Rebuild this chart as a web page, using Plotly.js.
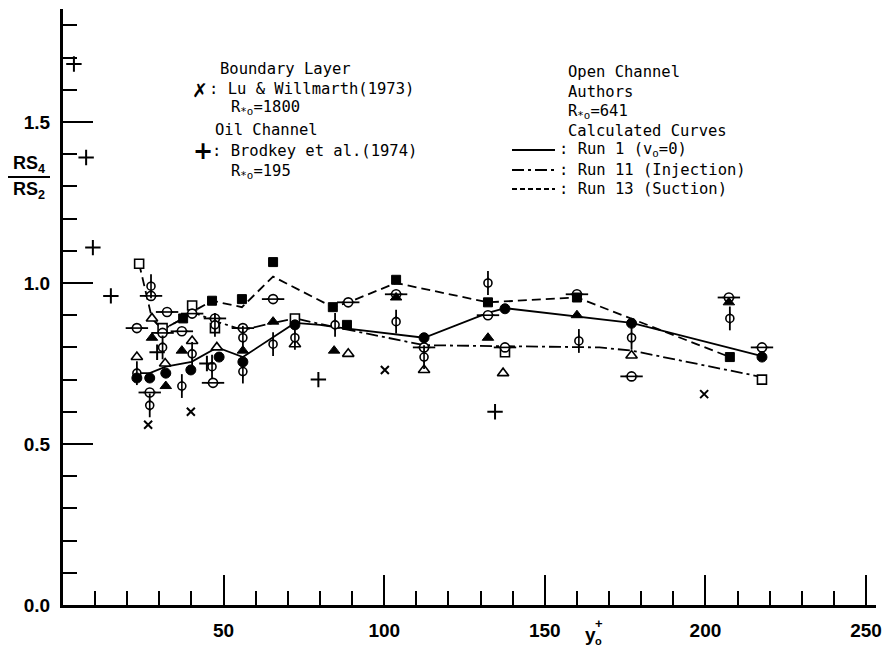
<!DOCTYPE html>
<html>
<head>
<meta charset="utf-8">
<script src="https://cdn.plot.ly/plotly-3.0.1.min.js"></script>
<style>html,body{margin:0;padding:0;background:#fff;}#chart{width:886px;height:649px;}</style>
</head>
<body>
<div id="chart"></div>
<script>
// ---------- data ----------
// Boundary layer: Lu & Willmarth (1973)
const luX = [26.5, 39.8, 100.2, 199.6];
const luY = [0.56, 0.60, 0.73, 0.655];
// Oil channel: Brodkey et al. (1974)
const brX = [3.4, 7.2, 9.3, 14.9, 29.3, 44.8, 79.5, 134.5];
const brY = [1.68, 1.39, 1.11, 0.96, 0.785, 0.75, 0.70, 0.60];

// Calculated curves
const run1X = [23, 27, 32, 40, 48, 56, 72.2, 80, 84.7, 112.4, 132.3, 137.6, 177, 217.6];
const run1Y = [0.72, 0.72, 0.74, 0.755, 0.80, 0.77, 0.876, 0.87, 0.863, 0.83, 0.907, 0.922, 0.876, 0.773];
const run11X = [27.7, 31, 37.4, 40.2, 47.9, 56, 65.4, 72.2, 84.7, 112.4, 167, 177, 217.6];
const run11Y = [0.89, 0.855, 0.89, 0.91, 0.88, 0.854, 0.876, 0.89, 0.863, 0.807, 0.80, 0.79, 0.708];
const run13X = [23.7, 27.7, 31, 37.4, 40.2, 46.4, 55.7, 65.4, 84, 88.8, 103.7, 132.3, 160, 207.6];
const run13Y = [1.06, 0.89, 0.855, 0.89, 0.91, 0.945, 0.925, 1.02, 0.925, 0.94, 1.00, 0.94, 0.955, 0.77];

// Authors' measurements (open channel), by symbol
const fcX = [23, 27, 32, 39.8, 48.6, 56, 72.2, 112.4, 137.6, 177, 217.6];            // filled circle
const fcY = [0.705, 0.705, 0.72, 0.73, 0.77, 0.755, 0.87, 0.83, 0.92, 0.875, 0.77];
const ftX = [27.7, 32, 37, 56, 65.4, 84.4, 103.7, 132.3, 160, 207.3];                 // filled triangle
const ftY = [0.83, 0.68, 0.79, 0.79, 0.88, 0.79, 0.955, 0.83, 0.90, 0.94];
const otX = [23, 27.7, 31.8, 40.2, 47.9, 72.2, 88.8, 112.4, 137, 177];                // open triangle
const otY = [0.77, 0.89, 0.75, 0.82, 0.80, 0.81, 0.78, 0.73, 0.72, 0.775];
const osX = [23.7, 31, 40.2, 47.3, 72.2, 137.6, 217.6];                               // open square
const osY = [1.06, 0.86, 0.93, 0.86, 0.89, 0.785, 0.70];
const fsX = [37.4, 46.4, 55.7, 65.4, 84, 88.4, 103.7, 132.3, 160, 207.6];             // filled square
const fsY = [0.89, 0.945, 0.95, 1.065, 0.925, 0.87, 1.01, 0.94, 0.955, 0.77];
const hbX = [23, 27.4, 27, 31, 32.4, 37, 40.2, 46.7, 47.3, 56, 65.4, 88.8, 103.7, 112.4, 132.3, 137.6, 160, 177, 207.3, 217.6]; // circle, horizontal bar
const hbY = [0.86, 0.96, 0.66, 0.845, 0.91, 0.85, 0.905, 0.69, 0.89, 0.86, 0.95, 0.94, 0.965, 0.80, 0.90, 0.80, 0.965, 0.71, 0.955, 0.80];
const vbX = [23, 27.4, 27, 31, 37, 40.2, 46.4, 47.3, 56, 56, 65.4, 72.2, 84.7, 103.7, 112.4, 132.3, 160.6, 177, 207.6]; // circle, vertical bar
const vbY = [0.72, 0.99, 0.62, 0.80, 0.68, 0.78, 0.74, 0.87, 0.83, 0.725, 0.81, 0.83, 0.87, 0.88, 0.77, 1.00, 0.82, 0.83, 0.89];

const xTickVals = [50, 100, 150, 200, 250];
const xTickText = ['50', '100', '150', '200', '250'];
const yTickVals = [0, 0.5, 1.0, 1.5];
const yTickText = ['0.0', '0.5', '1.0', '1.5'];

// ---------- layout helpers (pixel -> paper) ----------
const L = 63, R = 10, T = 9, B = 44, W = 886, H = 649;
const PW = W - L - R, PH = H - T - B;
const px = v => (v - L) / PW;
const py = v => (H - B - v) / PH;

const K = 'black';
const mono = 'DejaVu Sans Mono';
const sans = 'Liberation Sans';

function line(x, y, dash) {
  return {x, y, type: 'scatter', mode: 'lines', hoverinfo: 'skip',
          line: {color: K, width: 1.8, dash}};
}
// closed shape, white or black fill
function mk(x, y, symbol, size, lw, fill) {
  return {x, y, type: 'scatter', mode: 'markers', hoverinfo: 'skip',
          marker: {symbol, size, color: fill ? K : 'white',
                   line: {color: K, width: lw}}};
}
// stroke-only symbol (x, +, bars)
function st(x, y, symbol, size, lw) {
  return {x, y, type: 'scatter', mode: 'markers', hoverinfo: 'skip',
          marker: {symbol, size, color: K, line: {color: K, width: lw}}};
}

const traces = [
  line(run1X, run1Y, 'solid'),
  line(run11X, run11Y, '12px,4px,3px,4px'),
  line(run13X, run13Y, '9px,5px'),
  mk(otX, otY, 'triangle-up', 10, 1.6, false),
  mk(osX, osY, 'square', 9, 1.6, false),
  st(hbX, hbY, 'line-ew-open', 16, 1.8),
  mk(hbX, hbY, 'circle', 9, 1.6, false),
  st(hbX, hbY, 'line-ew-open', 9, 1.6),
  st(vbX, vbY, 'line-ns-open', 17, 1.8),
  mk(vbX, vbY, 'circle', 8, 1.6, false),
  st(vbX, vbY, 'line-ns-open', 8, 1.6),
  mk(fcX, fcY, 'circle', 10, 1, true),
  mk(ftX, ftY, 'triangle-up', 10, 1, true),
  mk(fsX, fsY, 'square', 9, 1, true),
  st(luX, luY, 'x-thin-open', 8, 2),
  st(brX, brY, 'cross-thin-open', 11, 2)
];

function txt(text, x, y, opts) {
  return Object.assign({text, x: px(x), y: py(y), xref: 'paper', yref: 'paper',
    xanchor: 'left', yanchor: 'middle', showarrow: false,
    font: {family: mono, size: 15.5, color: K}}, opts || {});
}

const annotations = [
  // left block
  txt('Boundary Layer', 218, 69),
  txt('✗', 200, 90, {xanchor: 'center', font: {family: 'DejaVu Sans', size: 19, color: K, weight: 700}}),
  txt(': Lu &amp; Willmarth(1973)', 207, 89),
  txt('R<sub>*o</sub>=1800', 229, 108),
  txt('Oil Channel', 213, 130),
  txt('+', 203, 151, {xanchor: 'center', font: {family: 'DejaVu Sans', size: 24, color: K, weight: 700}}),
  txt(': Brodkey et al.(1974)', 210, 151),
  txt('R<sub>*o</sub>=195', 229, 172),
  // right block
  txt('Open Channel', 566, 72),
  txt('Authors', 566, 92),
  txt('R<sub>*o</sub>=641', 566, 112),
  txt('Calculated Curves', 566, 131),
  txt(': Run 1 (v<sub>o</sub>=0)', 557, 150),
  txt(': Run 11 (Injection)', 557, 170),
  txt(': Run 13 (Suction)', 557, 189),
  // y-axis title (fraction)
  txt('RS<sub>4</sub>', 29, 164, {xanchor: 'center', font: {family: sans, size: 18, color: K, weight: 700}}),
  txt('RS<sub>2</sub>', 29, 190, {xanchor: 'center', font: {family: sans, size: 18, color: K, weight: 700}}),
  // x-axis title y_o^+
  txt('y', 590, 634, {xanchor: 'center', font: {family: sans, size: 19, color: K, weight: 700}}),
  txt('+', 599, 623, {xanchor: 'center', font: {family: sans, size: 13, color: K, weight: 700}}),
  txt('o', 598, 641, {xanchor: 'center', font: {family: sans, size: 11, color: K, weight: 700}})
];

const shapes = [
  {type: 'line', xref: 'paper', yref: 'paper', x0: px(8), x1: px(50), y0: py(177), y1: py(177), line: {color: K, width: 2}},
  {type: 'line', xref: 'paper', yref: 'paper', x0: px(512), x1: px(555), y0: py(150), y1: py(150), line: {color: K, width: 1.8}},
  {type: 'line', xref: 'paper', yref: 'paper', x0: px(512), x1: px(555), y0: py(170), y1: py(170), line: {color: K, width: 1.8, dash: '12px,4px,3px,4px'}},
  {type: 'line', xref: 'paper', yref: 'paper', x0: px(512), x1: px(555), y0: py(189), y1: py(189), line: {color: K, width: 1.8, dash: '5px,3px'}}
];

const layout = {
  width: W, height: H,
  margin: {l: L, r: R, t: T, b: B, pad: 0},
  paper_bgcolor: 'white', plot_bgcolor: 'white',
  showlegend: false,
  xaxis: {
    range: [0, 253.1], showgrid: false, zeroline: false,
    showline: true, linecolor: K, linewidth: 3,
    tickmode: 'array', tickvals: xTickVals, ticktext: xTickText,
    ticks: 'inside', ticklen: 30, tickwidth: 2, tickcolor: K,
    minor: {dtick: 10, tick0: 0, ticks: 'inside', ticklen: 14, tickwidth: 2, tickcolor: K, showgrid: false},
    tickfont: {family: sans, size: 19, color: K, weight: 700},
    ticklabelstandoff: 6
  },
  yaxis: {
    range: [0, 1.851], showgrid: false, zeroline: false,
    showline: true, linecolor: K, linewidth: 3,
    tickmode: 'array', tickvals: yTickVals, ticktext: yTickText,
    ticks: 'inside', ticklen: 30, tickwidth: 2, tickcolor: K,
    minor: {dtick: 0.1, tick0: 0, ticks: 'inside', ticklen: 14, tickwidth: 2, tickcolor: K, showgrid: false},
    tickfont: {family: sans, size: 19, color: K, weight: 700},
    ticklabelstandoff: 6
  },
  annotations, shapes
};

Plotly.newPlot('chart', traces, layout, {staticPlot: true, displayModeBar: false});
</script>
</body>
</html>
